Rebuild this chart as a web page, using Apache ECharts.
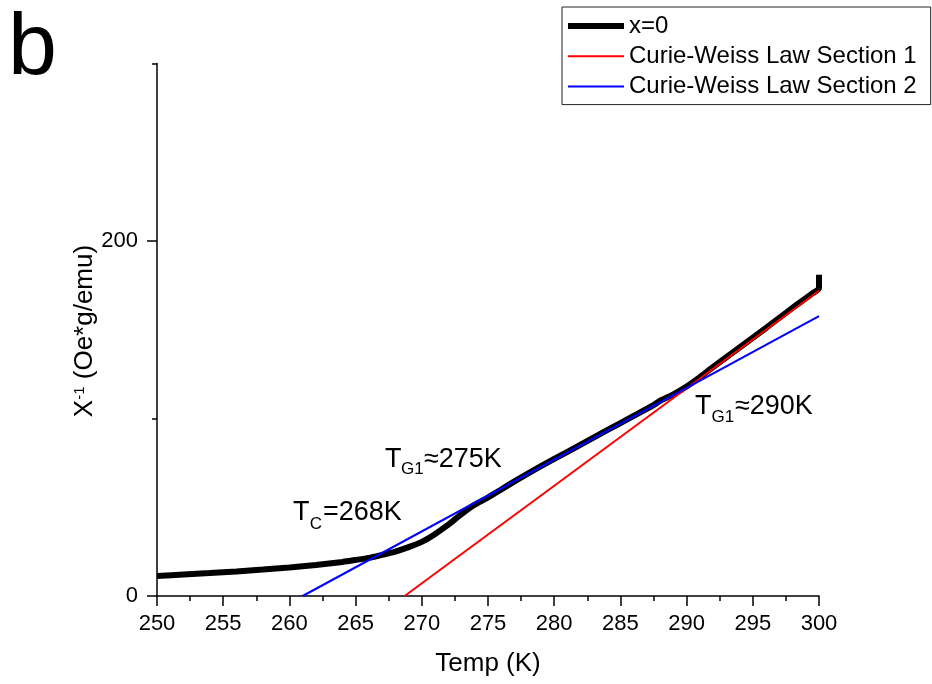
<!DOCTYPE html>
<html>
<head>
<meta charset="utf-8">
<script src="https://cdn.jsdelivr.net/npm/echarts@6/dist/echarts.min.js"></script>
<style>
html,body{margin:0;padding:0;background:#fff;}
#chart{width:932px;height:684px;}
</style>
</head>
<body>
<div id="chart"></div>
<script>
// ---- data ----
const temps = [250, 252, 254, 256, 258, 260, 262, 264, 265, 266, 267, 268, 269, 270, 270.9, 271.9, 272.9, 273.9, 275, 276, 277, 278, 280, 282, 284, 286, 287.5, 288, 289, 290, 291, 292, 294, 296, 298, 299.5, 300, 300];
const chiInv = [11.3, 12.1, 12.9, 13.8, 14.9, 16.1, 17.5, 19.2, 20.3, 21.5, 23.2, 25, 27.5, 30.5, 34.4, 39.6, 45.6, 51, 55.5, 60, 64.6, 69, 77.2, 85.3, 93.4, 101.5, 107.5, 110, 113.6, 118, 123.3, 129, 140, 151, 162.3, 170.5, 173.5, 181];
const cw1Temps = [268.7, 300];
const cw1Vals = [0, 172];
const cw2Temps = [261, 300];
const cw2Vals = [0, 157.7];
const yMajorLabels = [0, 200];
const yMinorTicks = [100, 300];
const seriesNames = ['x=0', 'Curie-Weiss Law Section 1', 'Curie-Weiss Law Section 2'];

const FONT = 'Liberation Sans, Arial, Helvetica, sans-serif';
const zip = (a, b) => a.map((v, i) => [v, b[i]]);

const chart = echarts.init(document.getElementById('chart'), null, {renderer: 'canvas'});

function txt(text, x, y, size) {
  return {type: 'text', x: x, y: y, style: {text: text, fill: '#000', font: size + 'px ' + FONT, align: 'left', verticalAlign: 'middle'}};
}

const option = {
  backgroundColor: '#fff',
  animation: false,
  grid: {left: 157, right: 113, top: 63.5, bottom: 88},
  xAxis: {
    type: 'value', min: 250, max: 300, interval: 5,
    name: 'Temp (K)', nameLocation: 'middle', nameGap: 55,
    nameTextStyle: {fontSize: 26, fontFamily: FONT, color: '#000'},
    axisLine: {show: true, onZero: false, lineStyle: {color: '#000', width: 1.5}},
    axisTick: {show: true, length: 10, lineStyle: {color: '#000', width: 1.5}},
    minorTick: {show: true, splitNumber: 2, length: 5, lineStyle: {color: '#000', width: 1.5}},
    axisLabel: {fontSize: 22, fontFamily: FONT, color: '#000', margin: 17},
    splitLine: {show: false}
  },
  yAxis: [{
    type: 'value', min: 0, max: 300, interval: 100, position: 'left',
    axisLine: {show: true, onZero: false, lineStyle: {color: '#000', width: 1.5}},
    axisTick: {show: true, length: 10, customValues: yMajorLabels, lineStyle: {color: '#000', width: 1.5}},
    axisLabel: {fontSize: 22, fontFamily: FONT, color: '#000', margin: 19, customValues: yMajorLabels},
    splitLine: {show: false}
  }, {
    type: 'value', min: 0, max: 300, interval: 100, position: 'left',
    axisLine: {show: false},
    axisTick: {show: true, length: 5, customValues: yMinorTicks, lineStyle: {color: '#000', width: 1.5}},
    axisLabel: {show: false},
    splitLine: {show: false}
  }],
  legend: {
    orient: 'vertical', left: 562, top: 7,
    padding: [7, 14, 6, 3],
    itemWidth: 56, itemHeight: 24, itemGap: 6.3,
    borderColor: '#222', borderWidth: 1,
    lineStyle: {width: 'inherit'},
    itemStyle: {opacity: 0},
    textStyle: {fontSize: 24, fontFamily: FONT, color: '#000'},
    data: seriesNames
  },
  series: [{
    name: seriesNames[0], type: 'line', yAxisIndex: 0,
    data: zip(temps, chiInv), showSymbol: false, symbol: 'none', smooth: 0.25,
    lineStyle: {color: '#000', width: 6}, itemStyle: {color: '#000'}, z: 2
  }, {
    name: seriesNames[1], type: 'line', yAxisIndex: 0,
    data: zip(cw1Temps, cw1Vals), showSymbol: false, symbol: 'none',
    lineStyle: {color: '#ff0000', width: 2}, itemStyle: {color: '#ff0000'}, z: 3
  }, {
    name: seriesNames[2], type: 'line', yAxisIndex: 0,
    data: zip(cw2Temps, cw2Vals), showSymbol: false, symbol: 'none',
    lineStyle: {color: '#0000ff', width: 2}, itemStyle: {color: '#0000ff'}, z: 4
  }],
  graphic: [
    txt('b', 8, 49.5, 88),
    {
      type: 'text', x: 85, y: 331, rotation: Math.PI / 2,
      style: {
        text: '{a|X}{s|-1}{a| (Oe*g/emu)}', align: 'center', verticalAlign: 'middle',
        rich: {
          a: {fontSize: 26, fontFamily: FONT, color: '#000', lineHeight: 26, verticalAlign: 'top'},
          s: {fontSize: 15, fontFamily: FONT, color: '#000', lineHeight: 18, verticalAlign: 'top'}
        }
      }
    },
    txt('T', 293, 513, 27), txt('C', 309.8, 524.5, 17), txt('=268K', 323, 513, 27),
    txt('T', 385, 459.7, 27), txt('G1', 401, 469.5, 17), txt('\u2248275K', 424, 459.7, 27),
    txt('T', 695, 406.7, 27), txt('G1', 711.5, 417.5, 17), txt('\u2248290K', 735, 406.7, 27)
  ]
};
chart.setOption(option);
</script>
</body>
</html>
